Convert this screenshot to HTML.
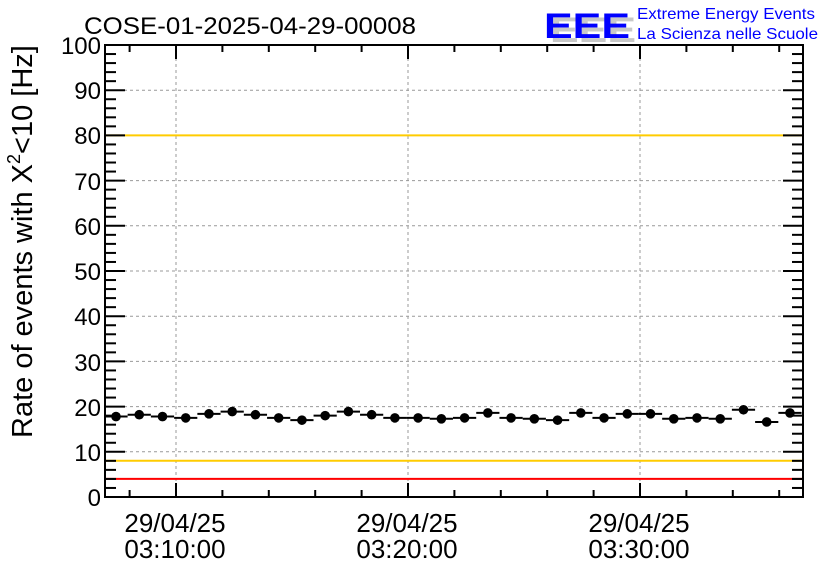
<!DOCTYPE html>
<html><head><meta charset="utf-8"><style>
html,body{margin:0;padding:0;background:#fff;}
svg{display:block;font-family:"Liberation Sans",sans-serif;}
</style></head><body>
<svg id="s" width="836" height="572" viewBox="0 0 836 572" xmlns="http://www.w3.org/2000/svg">
<rect width="836" height="572" fill="#fff"/>
<g id="grid" stroke="#999" stroke-width="1" stroke-dasharray="3,3"></g>
<line x1="105" y1="135.4" x2="803" y2="135.4" stroke="#ffcc00" stroke-width="2"/>
<line x1="105" y1="460.8" x2="803" y2="460.8" stroke="#ffcc00" stroke-width="2"/>
<line x1="105" y1="478.9" x2="803" y2="478.9" stroke="#ff0000" stroke-width="2"/>
<line x1="105" y1="45" x2="803" y2="45" stroke="#ff0000" stroke-width="2"/>
<g id="ticks" stroke="#000" stroke-width="2"></g>
<rect x="105" y="45" width="698" height="452" fill="none" stroke="#000" stroke-width="2"/>
<g id="data"></g>
<g font-size="24" fill="#000" text-anchor="end">
<text x="101" y="54">100</text><text x="101" y="99">90</text><text x="101" y="144">80</text>
<text x="101" y="190">70</text><text x="101" y="235">60</text><text x="101" y="280">50</text>
<text x="101" y="325">40</text><text x="101" y="371">30</text><text x="101" y="416">20</text>
<text x="101" y="461">10</text><text x="101" y="506">0</text>
</g>
<g font-size="26" fill="#000" text-anchor="middle">
<text x="175" y="532">29/04/25</text><text x="175" y="558">03:10:00</text>
<text x="407" y="532">29/04/25</text><text x="407" y="558">03:20:00</text>
<text x="639" y="532">29/04/25</text><text x="639" y="558">03:30:00</text>
</g>
<text x="84" y="34" font-size="24" fill="#000" textLength="332" lengthAdjust="spacingAndGlyphs">COSE-01-2025-04-29-00008</text>
<text transform="translate(32,438) rotate(-90)" font-size="29" fill="#000">Rate of events with X<tspan dy="-12" font-size="18">2</tspan><tspan dy="12">&lt;10 [Hz]</tspan></text>
<g font-size="35" font-weight="bold" fill="#c8c8c8"><text x="550" y="42" textLength="86" lengthAdjust="spacingAndGlyphs">EEE</text></g>
<g font-size="35" font-weight="bold" fill="#0000ff"><text x="544" y="38" textLength="86" lengthAdjust="spacingAndGlyphs">EEE</text></g>
<text x="637" y="19" font-size="16" fill="#0000ff" textLength="178" lengthAdjust="spacingAndGlyphs">Extreme Energy Events</text>
<text x="637" y="39" font-size="16" fill="#0000ff" textLength="181" lengthAdjust="spacingAndGlyphs">La Scienza nelle Scuole</text>
</svg>
<script>
var NS="http://www.w3.org/2000/svg";
function el(p,t,a){var e=document.createElementNS(NS,t);for(var k in a)e.setAttribute(k,a[k]);document.getElementById(p).appendChild(e);}
var Y=function(v){return 497-4.52*v;};
[176,408,640].forEach(function(x){el("grid","line",{x1:x,y1:46,x2:x,y2:496});});
for(var v=10;v<100;v+=10)el("grid","line",{x1:106,y1:Y(v),x2:802,y2:Y(v)});
for(var v=0;v<=100;v+=2){var maj=v%10==0,L=maj?20:11;
el("ticks","line",{x1:105,y1:Y(v),x2:105+L,y2:Y(v)});
el("ticks","line",{x1:803,y1:Y(v),x2:803-L,y2:Y(v)});}
for(var x=176-46.4;x<803;x+=46.4){var k=Math.round((x-176)/46.4),maj=((k%5)+5)%5==0,L=maj?14:7;
if(x<106)continue;
el("ticks","line",{x1:x,y1:497,x2:x,y2:497-L});
el("ticks","line",{x1:x,y1:45,x2:x,y2:45+L});}
var d=[17.8,18.2,17.8,17.5,18.4,18.9,18.2,17.5,17.0,18.0,18.9,18.2,17.5,17.5,17.3,17.5,18.6,17.5,17.3,17.0,18.6,17.5,18.4,18.4,17.3,17.5,17.3,19.3,16.6,18.6];
d.forEach(function(v,i){var x=116+i*23.24,y=Y(v);
el("data","line",{x1:x-11.6,y1:y,x2:x+11.6,y2:y,stroke:"#000","stroke-width":2});
el("data","circle",{cx:x,cy:y,r:4.8,fill:"#000"});});
</script>
</body></html>
